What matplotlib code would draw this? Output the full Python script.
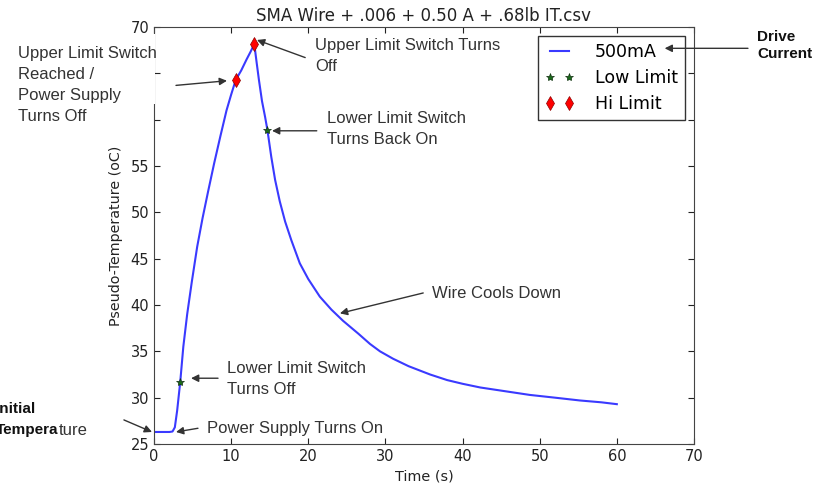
import matplotlib
matplotlib.use("Agg")
import matplotlib.pyplot as plt
from matplotlib.patches import Rectangle

# Data
time_s = [0, 1.0, 2.0, 2.4, 2.7, 3.0, 3.4, 3.8, 4.3, 4.9, 5.6, 6.3, 7.0, 7.8, 8.6,
          9.4, 10.0, 10.6, 11.3, 12.0, 12.5, 13.0,
          13.3, 13.6, 14.0, 14.4, 14.7, 15.2, 15.7, 16.3, 17.0, 17.8, 18.9, 20.0,
          21.5, 23.0, 24.5, 26.5, 28.0, 29.3, 31.0, 33.0, 35.8, 38.0, 40.0, 42.3,
          45.5, 48.7, 52.0, 55.2, 58.0, 60.0]
temp_c = [26.3, 26.3, 26.3, 26.35, 26.8, 28.6, 31.7, 35.5, 39.0, 42.5, 46.3, 49.4, 52.2,
          55.3, 58.2, 61.0, 62.7, 64.3, 65.3, 66.5, 67.3, 68.15,
          66.2, 64.3, 62.0, 60.3, 58.9, 56.0, 53.5, 51.2, 49.0, 47.0, 44.5, 42.8,
          40.9, 39.5, 38.3, 36.9, 35.8, 35.0, 34.2, 33.4, 32.5, 31.9, 31.5, 31.1,
          30.7, 30.3, 30.0, 29.7, 29.5, 29.3]

low_t = [3.4, 14.7]
low_v = [31.7, 58.9]
hi_t = [10.6, 13.0]
hi_v = [64.3, 68.15]

xticks = [0, 10, 20, 30, 40, 50, 60, 70]
yticks = [25, 30, 35, 40, 45, 50, 55, 60, 65, 70]

note_font = "Liberation Sans"
note_col = "#333333"
arrow = dict(arrowstyle="-|>", color="#333333", lw=1.0, mutation_scale=11,
             shrinkA=0, shrinkB=0)

fig = plt.figure(figsize=(8.24, 4.83), dpi=100)
ax = fig.add_axes([0.1869, 0.0807, 0.6553, 0.8634])

ax.plot(time_s, temp_c, color="#3a3aff", lw=1.5, label="500mA")
ax.plot(low_t, low_v, ls="none", marker="*", color="#1a6b1a", mec="#103010",
        mew=0.5, ms=6, label="Low Limit", zorder=3)
ax.plot(hi_t, hi_v, ls="none", marker="d", color="red", mec="#8b0000",
        mew=0.5, ms=7, label="Hi Limit", zorder=3)

ax.set_xlim(0, 70)
ax.set_ylim(25, 70)
ax.set_xticks(xticks)
ax.set_yticks(yticks)
ax.tick_params(direction="in", top=True, right=True, length=4, labelsize=10.5,
               colors="#222222")
for s in ax.spines.values():
    s.set_color("#444444")

ax.set_title("SMA Wire + .006 + 0.50 A + .68lb IT.csv", fontsize=12, pad=4,
             color="#222222")
ax.set_xlabel("Time (s)", fontsize=10.4, color="#222222")
ax.set_ylabel("Pseudo-Temperature (oC)", fontsize=10.3, color="#222222", labelpad=5)

leg = ax.legend(loc="upper right", bbox_to_anchor=(0.983, 0.978), borderaxespad=0,
                numpoints=2, fontsize=12.5, fancybox=False, framealpha=1,
                edgecolor="#333333", handlelength=1.7, handletextpad=1.2,
                labelspacing=0.45)
leg.get_frame().set_linewidth(1.0)

# white box of the left note covers part of the left spine and two labels
ax.add_patch(Rectangle((10 / 824, (483 - 104) / 483), 145 / 824, 70 / 483,
                       transform=fig.transFigure, facecolor="white",
                       edgecolor="none", zorder=5, clip_on=False))
ax.add_patch(Rectangle((10 / 824, (483 - 130) / 483), 140 / 824, 96 / 483,
                       transform=fig.transFigure, facecolor="white",
                       edgecolor="none", zorder=5, clip_on=False))

txt = dict(family=note_font, fontsize=12, color=note_col, clip_on=False, zorder=6)

ax.text(20.9, 68.8, "Upper Limit Switch Turns\nOff", ha="left", va="top",
        linespacing=1.45, **txt)
ax.annotate("", xy=(13.35, 68.6), xytext=(19.6, 66.7), arrowprops=arrow,
            annotation_clip=False)

ax.text(-17.6, 67.9, "Upper Limit Switch\nReached /\nPower Supply\nTurns Off",
        ha="left", va="top", linespacing=1.5, **txt)
ax.annotate("", xy=(9.46, 64.2), xytext=(2.85, 63.7), arrowprops=arrow,
            annotation_clip=False)

ax.text(22.4, 60.9, "Lower Limit Switch\nTurns Back On", ha="left", va="top",
        linespacing=1.45, **txt)
ax.annotate("", xy=(15.3, 58.8), xytext=(21.1, 58.8), arrowprops=arrow,
            annotation_clip=False)

ax.text(36.0, 41.2, "Wire Cools Down", ha="left", va="center", **txt)
ax.annotate("", xy=(24.1, 39.1), xytext=(34.9, 41.3), arrowprops=arrow,
            annotation_clip=False)

ax.text(9.46, 34.0, "Lower Limit Switch\nTurns Off", ha="left", va="top",
        linespacing=1.5, **txt)
ax.annotate("", xy=(4.8, 32.1), xytext=(8.3, 32.1), arrowprops=arrow,
            annotation_clip=False)

ax.text(6.87, 26.7, "Power Supply Turns On", ha="left", va="center", **txt)
ax.annotate("", xy=(2.85, 26.3), xytext=(5.7, 26.7), arrowprops=arrow,
            annotation_clip=False)

bold = dict(family=note_font, fontsize=11, fontweight="bold", color="#111111",
            clip_on=False, zorder=6)
ax.text(-20.6, 28.8, "Initial", ha="left", va="center", **bold)
ax.text(-12.4, 26.5, "Tempera", ha="right", va="center", **bold)
ax.text(-12.4, 26.5, "ture", ha="left", va="center", **txt)
ax.annotate("", xy=(-0.26, 26.3), xytext=(-3.9, 27.6), arrowprops=arrow,
            annotation_clip=False)

ax.text(78.2, 69.7, "Drive\nCurrent", ha="left", va="top", linespacing=1.3, **bold)
ax.annotate("", xy=(66.2, 67.7), xytext=(77.0, 67.7), arrowprops=arrow,
            annotation_clip=False, zorder=7)

fig.savefig("out.png", dpi=100)
